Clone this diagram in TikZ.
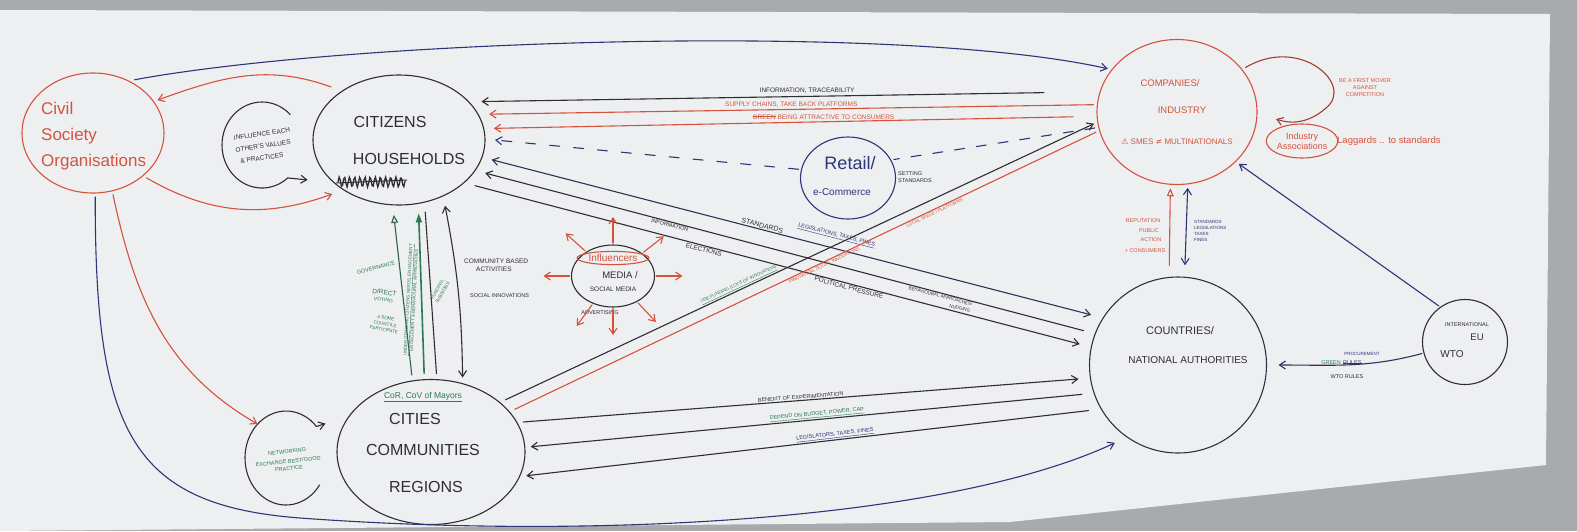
\documentclass[tikz,border=0pt]{standalone}
\usepackage{fontspec}
\setmainfont{Liberation Sans}
\newfontfamily\symfont{DejaVu Sans}
\usetikzlibrary{arrows.meta,shapes.geometric}
\definecolor{redink}{HTML}{D4533D}
\definecolor{navyink}{HTML}{2F3579}
\definecolor{blackink}{HTML}{2E2E33}
\definecolor{greenink}{HTML}{2B7A52}
\definecolor{paperc}{HTML}{EEEFF1}
\definecolor{wallc}{HTML}{A9AAAE}
\newsavebox\xbox
\newcommand\xstrike[1]{\sbox\xbox{#1}\rlap{#1}\rule[0.3em]{\wd\xbox}{0.12em}}
\begin{document}
\begin{tikzpicture}[x=1pt,y=1pt,
 >={Straight Barb[length=6pt,width=8pt]},
 pen/.style={line width=1.1pt, line cap=round, line join=round},
 circ/.style={ellipse, pen, inner sep=0pt},
 lab/.style={inner sep=1pt, align=center},
 f4/.style={font=\fontsize{4.5}{6}\selectfont},
 f5/.style={font=\fontsize{5.5}{7}\selectfont},
 f6/.style={font=\fontsize{6.5}{8}\selectfont},
 f8/.style={font=\fontsize{8}{10}\selectfont},
 f9/.style={font=\fontsize{9.5}{12}\selectfont},
 f11/.style={font=\fontsize{11}{13}\selectfont},
 f16/.style={font=\fontsize{16}{19}\selectfont},
 opentri/.style={-{Triangle[open,length=8pt,width=7pt]}},
 filltri/.style={-{Triangle[length=9pt,width=6pt]}},
]
\useasboundingbox (0,0) rectangle (1577,-531);
\fill[wallc] (0,0) rectangle (1577,-531);
\fill[paperc] (0,-10) -- (1550,-14) -- (1546,-465) -- (1010,-522) -- (0,-531) -- cycle;

% ---------- main nodes ----------
\node[circ, draw=redink, minimum width=142pt, minimum height=120pt, outer sep=4pt] (cso) at (93,-133) {};
\node[lab, text=redink, font=\fontsize{17}{26}\selectfont, align=left, anchor=west] (csot) at (40,-136) {Civil\\Society\\Organisations};

\node[ellipse, minimum width=80pt, minimum height=86pt] (infl) at (262,-145) {};
\node[lab, f6, text=blackink, rotate=8] (inflt1) at (262,-134) {INFLUENCE EACH};
\node[lab, f6, text=blackink, rotate=8] (inflt2) at (263,-146) {OTHER'S VALUES};
\node[lab, f6, text=blackink, rotate=8] (inflt3) at (262,-158) {\& PRACTICES};

\node[circ, draw=blackink, minimum width=172pt, minimum height=130pt, outer sep=10pt] (cit) at (399,-140) {};
\node[lab, f16, text=blackink] (citt1) at (390,-122) {CITIZENS};
\node[lab, f16, text=blackink] (citt2) at (409,-159) {HOUSEHOLDS};

\node[circ, draw=redink, minimum width=160pt, minimum height=145pt, outer sep=4pt] (comp) at (1177,-112) {};
\node[lab, f9, text=redink] (compt1) at (1170,-83) {COMPANIES/};
\node[lab, f9, text=redink] (compt2) at (1182,-110) {INDUSTRY};
\node[lab, f8, text=redink] (compt3) at (1177,-142) {{\symfont ⚠} SMES {\symfont ≠} MULTINATIONALS};

\node[lab, f5, text=redink, align=center] (mover) at (1365,-88) {BE A FIRST MOVER\\AGAINST\\COMPETITION};
\node[ellipse, pen, draw=redink, minimum width=66pt, minimum height=34pt, inner sep=0pt, text=redink, font=\fontsize{9}{10}\selectfont, align=center] (ia) at (1302,-141) {Industry\\Associations};
\node[lab, text=redink, font=\fontsize{9.5}{11}\selectfont, anchor=west] (lag) at (1336,-141) {Laggards .. to standards};

\node[circ, draw=navyink, minimum width=95pt, minimum height=82pt, outer sep=3pt] (ret) at (848,-178) {};
\node[lab, text=navyink, font=\fontsize{18}{20}\selectfont] (rett1) at (850,-163) {Retail/};
\node[lab, text=navyink, font=\fontsize{10}{12}\selectfont] (rett2) at (842,-192) {e-Commerce};
\node[lab, f5, text=blackink, align=left, anchor=west] (setst) at (897,-177) {SETTING\\STANDARDS};

\node[circ, draw=blackink, minimum width=83pt, minimum height=62pt, outer sep=2pt] (med) at (613,-276) {};
\node[ellipse, pen, draw=redink, inner sep=1pt, text=redink, font=\fontsize{10}{11}\selectfont] (infn) at (613,-258) {Influencers};
\node[lab, f9, text=blackink] (medt1) at (620,-275) {MEDIA /};
\node[lab, f6, text=blackink] (medt2) at (613,-289) {SOCIAL MEDIA};
\node[lab, f5, text=blackink] (advt) at (600,-313) {ADVERTISING};

\node[circ, draw=blackink, minimum width=188pt, minimum height=145pt, outer sep=6pt] (cities) at (431,-452) {};
\node[lab, text=greenink, font=\fontsize{8.5}{10}\selectfont] (cort) at (423,-397) {\underline{CoR, CoV of Mayors}};
\node[lab, f16, text=blackink] (citiest1) at (415,-419) {CITIES};
\node[lab, f16, text=blackink] (citiest2) at (423,-450) {COMMUNITIES};
\node[lab, f16, text=blackink] (citiest3) at (426,-487) {REGIONS};

\node[ellipse, minimum width=82pt, minimum height=94pt] (netw) at (286,-458) {};
\node[lab, f5, text=greenink, rotate=6] (netwt) at (288,-460) {NETWORKING\\[3pt]EXCHANGE BEST/GOOD\\PRACTICE};

\node[circ, draw=blackink!70!navyink, minimum width=177pt, minimum height=176pt, outer sep=12pt] (ctry) at (1178,-365) {};
\node[lab, font=\fontsize{11}{13}\selectfont, text=blackink] (ctryt1) at (1180,-331) {COUNTRIES/};
\node[lab, font=\fontsize{10}{12}\selectfont, text=blackink] (ctryt2) at (1188,-360) {NATIONAL AUTHORITIES};

\node[circ, draw=blackink, minimum width=85pt, minimum height=85pt, outer sep=2pt] (intl) at (1465,-342) {};
\node[lab, f5, text=blackink] (intlt1) at (1467,-325) {INTERNATIONAL};
\node[lab, f9, text=blackink] (intlt2) at (1477,-337) {EU};
\node[lab, font=\fontsize{10}{12}\selectfont, text=blackink] (intlt3) at (1452,-354) {WTO};

% ---------- civil society connectors ----------
\draw[pen, navyink, ->] (cso.52) .. controls (350,-40) and (900,-22) .. (comp.148);
\draw[pen, navyink, ->] (cso.-88) .. controls (95,-430) and (130,-505) .. (300,-518) .. controls (600,-540) and (950,-520) .. (ctry.231);
\draw[pen, redink, ->] (cit.142) to[out=160, in=20] (cso.27);
\draw[pen, redink, ->] (cso.-40) to[out=-30, in=200] (cit.219);
\draw[pen, redink, ->] (cso.-72) to[out=-78, in=150] (netw.130);

% influence loop and networking loop
\draw[pen, blackink, ->] (infl.center) ++(45:40 and 43) arc[start angle=45, end angle=310, x radius=40, y radius=43] -- ++(20,-2);
\draw[pen, blackink, ->] (netw.center) ++(-35:41 and 47) arc[start angle=-35, end angle=-318, x radius=41, y radius=47] -- ++(9,3);

% scribble under citizens
\draw[blackink, line width=1.3pt] plot[domain=0:67, samples=60] ({338+\x},{-182+5*sin(\x*70)});
\draw[blackink, line width=1pt] (336,-183) -- (407,-180);

% ---------- top arrows companies -> citizens ----------
\draw[pen, blackink, ->, shorten <=52pt] (comp.166) -- (cit.25)
  node[lab, pos=.47, above=2pt, f6, text=blackink] {INFORMATION, TRACEABILITY};
\draw[pen, redink, ->] (comp.175) -- (cit.16)
  node[lab, pos=.5, above=1pt, f6, text=redink] {SUPPLY CHAINS, TAKE BACK PLATFORMS};
\draw[pen, redink, ->, shorten <=20pt] (comp.183) -- (cit.7)
  node[lab, pos=.45, above=1pt, f6, text=redink] {\xstrike{GREEN} BEING ATTRACTIVE TO CONSUMERS};
\draw[pen, navyink, dash pattern=on 10pt off 12pt] (comp.191) -- (ret.22);
\draw[pen, navyink, dash pattern=on 10pt off 14pt, ->] (ret.170) -- (cit.0);

% ---------- citizens -> countries ----------
\draw[pen, navyink!50!blackink, <->] (cit.-12) -- (ctry.150)
  node[lab, pos=.57, above=8pt, sloped, f5, text=navyink] {\underline{LEGISLATIONS, TAXES, FINES}}
  node[lab, pos=.45, above=0pt, sloped, font=\fontsize{7}{8}\selectfont, text=blackink] {STANDARDS};
\draw[pen, blackink, <-] (cit.-21) -- (ctry.160)
  node[lab, pos=.31, below, sloped, f5, text=blackink] {INFORMATION};
\draw[pen, blackink, ->] (cit.-31) -- (ctry.168)
  node[lab, pos=.38, below, sloped, f6, text=blackink] {ELECTIONS}
  node[lab, pos=.62, below, sloped, f6, text=blackink] {POLITICAL PRESSURE}
  node[lab, pos=.765, above=8pt, sloped, f4, text=blackink] {BEHAVIOURAL APPROACHES/}
  node[lab, pos=.80, above=1pt, sloped, f4, text=blackink] {NUDGING};

% ---------- cities -> companies ----------
\draw[pen, blackink, ->] (cities.35) -- (comp.188)
  node[lab, pos=.40, above, sloped, f4, text=greenink] {\underline{USE FUNDING (LOTS OF INNOVATION)}};
\draw[pen, redink] (cities.27) -- (comp.194)
  node[lab, pos=.53, below, sloped, f4, text=redink] {INNOVATION, SOCIAL INNOVATIONS}
  node[lab, pos=.72, below, sloped, f4, text=redink] {LOCAL SPACE / PLATFORMS};

% ---------- cities <-> countries ----------
\draw[pen, blackink, ->] (cities.18) -- (ctry.188)
  node[lab, pos=.5, above, sloped, f5, text=blackink] {BENEFIT OF EXPERIMENTATION};
\draw[pen, blackink, <-] (cities.3) -- (ctry.197)
  node[lab, pos=.52, above, sloped, f5, text=greenink] {\underline{DEPEND ON BUDGET, POWER, CAP}};
\draw[pen, blackink, <-] (cities.-14) -- (ctry.207)
  node[lab, pos=.55, above, sloped, f5, text=navyink] {\underline{LEGISLATORS, TAXES, FINES}};

% ---------- citizens <-> cities ----------
\draw[pen, greenink!70!blackink, opentri] (cities.104) -- (cit.-94);
\draw[line width=1.6pt, greenink, filltri] (cities.95) -- (cit.-75);
\draw[pen, blackink] (cities.86) -- (cit.-70);
\draw[pen, blackink, <->] (cities.67) to[bend right=5] (cit.-55);
\node[lab, f4, text=greenink, rotate=87] (undt) at (411,-300) {\underline{UNDERSTANDING CITIZENS NEEDS, ENGAGEMENT}\\ENGAGEMENT \& BEHAVIOURAL APPROACHES};
\node[lab, f5, text=greenink, rotate=15] (govt) at (376,-268) {GOVERNANCE};
\node[lab, text=greenink, font=\fontsize{6.5}{7}\selectfont, rotate=-8] (dirt) at (384,-296) {DIRECT\\{\fontsize{5}{6}\selectfont VOTING}};
\node[lab, f4, text=greenink, rotate=-10] (somet) at (385,-324) {\# SOME\\COUNCILS\\PARTICIPATE};
\node[lab, f4, text=greenink, rotate=60] (fundt) at (440,-291) {FUNDING,\\SUBSIDIES};
\node[lab, f6, text=blackink, align=left, anchor=west] (cbat) at (463,-265) {COMMUNITY BASED\\\hspace{12pt}ACTIVITIES};
\node[lab, f5, text=blackink, anchor=west] (sit) at (469,-296) {SOCIAL INNOVATIONS};

% ---------- media rays ----------
\foreach \a in {138,90,38,180,0,234,270,313}
  \draw[pen, redink, ->] (med.\a) -- ++(\a:26);

% ---------- companies / countries / international ----------
\draw[pen, redink!75!black, ->] (comp.33) .. controls (1300,-35) and (1355,-85) .. (1326,-108) .. controls (1308,-124) and (1290,-124) .. (1276,-119);
\draw[pen, redink, opentri] (ctry.95) -- (comp.-95);
\draw[pen, navyink, <->] (ctry.86) -- (comp.-82);
\node[lab, f5, text=redink] (rept1) at (1143,-221) {REPUTATION};
\node[lab, f5, text=redink] (rept2) at (1149,-231) {PUBLIC};
\node[lab, f5, text=redink] (rept3) at (1151,-240) {ACTION};
\node[lab, f5, text=redink] (rept4) at (1145,-251) {+ CONSUMERS};
\node[lab, f4, text=navyink, align=left, anchor=west] (stdt) at (1193,-231) {STANDARDS\\LEGISLATIONS\\TAXES\\FINES};
\draw[pen, navyink, ->] (intl.126) -- (comp.-40);
\draw[pen, navyink!60!blackink, ->] (intl.195) to[out=195, in=0] (ctry.east);
\node[lab, f5, text=greenink, anchor=east] (greent) at (1342,-363) {GREEN};
\node[lab, f5, text=navyink, anchor=west] (rulest) at (1342,-363) {\xstrike{RULES}};
\node[lab, f4, text=navyink] (proct) at (1362,-354) {PROCUREMENT};
\node[lab, f5, text=blackink] (wtot) at (1347,-377) {WTO RULES};
\end{tikzpicture}
\end{document}
